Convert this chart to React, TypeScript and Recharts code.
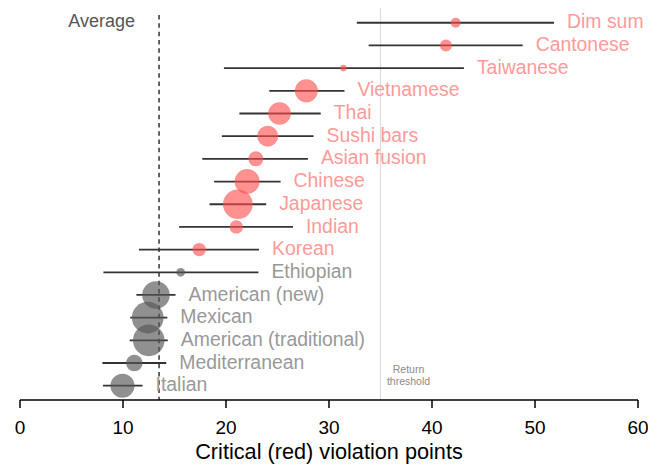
import React from 'react';
import { ScatterChart, Scatter, XAxis, YAxis, ZAxis, ErrorBar, ReferenceLine } from 'recharts';

// Cuisines, top to bottom
const cuisines = [
  'Dim sum', 'Cantonese', 'Taiwanese', 'Vietnamese', 'Thai', 'Sushi bars', 'Asian fusion',
  'Chinese', 'Japanese', 'Indian', 'Korean', 'Ethiopian', 'American (new)', 'Mexican',
  'American (traditional)', 'Mediterranean', 'Italian',
];
const means = [42.3, 41.35, 31.4, 27.8, 25.2, 24.05, 22.9, 22.05, 21.15, 21.0, 17.4, 15.6, 13.2, 12.4, 12.5, 11.1, 9.95];
const lows = [32.7, 33.85, 19.8, 24.2, 21.3, 19.6, 17.7, 18.85, 18.4, 15.45, 11.55, 8.1, 11.3, 10.7, 10.65, 8.0, 8.05];
const highs = [51.85, 48.8, 43.1, 31.5, 29.2, 28.5, 27.95, 25.3, 23.9, 26.5, 23.2, 23.15, 15.1, 14.3, 14.35, 14.2, 11.9];
const weights = [25, 36, 11, 132, 128, 110, 56, 156, 220, 45, 45, 19, 190, 250, 250, 69, 145];
const critical = [true, true, true, true, true, true, true, true, true, true, true, false, false, false, false, false, false];
const xTicks = [0, 10, 20, 30, 40, 50, 60];
const AVERAGE = 13.5;
const THRESHOLD = 35;

const Y_MIN = -0.63;
const Y_MAX = 16.65;
const AVG_TOP = 16.34;
const MAX_W = 250;

const rows = cuisines.map((name, i) => ({
  name,
  x: means[i],
  y: cuisines.length - 1 - i,
  w: weights[i],
  err: [means[i] - lows[i], highs[i] - means[i]],
  high: highs[i],
  critical: critical[i],
}));
const redRows = rows.filter((r) => r.critical);
const grayRows = rows.filter((r) => !r.critical);
const labelRows = rows.map((r) => ({ ...r, x: r.high }));
const avgLabel = [{ x: AVERAGE, y: cuisines.length - 1 }];
const thrLabel = [{ x: THRESHOLD, y: 0.5 }];

const FONT = '"Liberation Sans", Arial, Helvetica, sans-serif';

const Empty = () => <g />;

const NameLabel = (p: any) => (
  <text
    x={p.cx + 13}
    y={p.cy + 5.6}
    fontSize={19.4}
    fontFamily={FONT}
    fill={p.payload.critical ? '#ff9a9a' : '#999999'}
  >
    {p.payload.name}
  </text>
);

const AvgLabel = (p: any) => (
  <text x={p.cx - 24} y={p.cy + 4.5} fontSize={18} fontFamily={FONT} fill="#555555" textAnchor="end">
    Average
  </text>
);

const ThrLabel = (p: any) => (
  <g>
    <text x={p.cx + 28} y={p.cy - 1.8} fontSize={10.5} fontFamily={FONT} fill="#8a8a8a" textAnchor="middle">
      Return
    </text>
    <text x={p.cx + 28} y={p.cy + 10.2} fontSize={10.5} fontFamily={FONT} fill="#8a8a8a" textAnchor="middle">
      threshold
    </text>
  </g>
);

export default function App() {
  return (
    <div style={{ position: 'absolute', left: 0, top: 0, width: 648, height: 464, background: '#fff' }}>
      <ScatterChart
        width={648}
        height={464}
        margin={{ top: 8, right: 10, bottom: 0, left: 20 }}
        style={{ fontFamily: FONT }}
      >
        <XAxis
          type="number"
          dataKey="x"
          domain={[0, 60]}
          ticks={xTicks}
          height={64}
          tickSize={8}
          tickMargin={13}
          axisLine={{ stroke: '#000', strokeWidth: 1.5 }}
          tickLine={{ stroke: '#000', strokeWidth: 1.5 }}
          tick={{ fill: '#000', fontSize: 19, fontFamily: FONT }}
          label={{
            value: 'Critical (red) violation points',
            position: 'insideBottom',
            offset: 5.5,
            fontSize: 21.7,
            fill: '#000',
            fontFamily: FONT,
          }}
        />
        <YAxis type="number" dataKey="y" domain={[Y_MIN, Y_MAX]} hide />
        <ZAxis type="number" dataKey="w" domain={[0, MAX_W]} range={[0, MAX_W * Math.PI]} />
        <ReferenceLine x={THRESHOLD} stroke="#dcdcdc" strokeWidth={1.2} />
        <ReferenceLine
          segment={[
            { x: AVERAGE, y: AVG_TOP },
            { x: AVERAGE, y: Y_MIN },
          ]}
          stroke="#333"
          strokeWidth={1.5}
          strokeDasharray="4.5 3.8"
        />
        <Scatter data={redRows} fill="#ff4d4d" fillOpacity={0.62} isAnimationActive={false} />
        <Scatter data={grayRows} fill="#565656" fillOpacity={0.66} isAnimationActive={false} />
        <Scatter data={rows} shape={Empty} isAnimationActive={false}>
          <ErrorBar dataKey="err" direction="x" width={0} stroke="#333" strokeWidth={1.8} isAnimationActive={false} />
        </Scatter>
        <Scatter data={labelRows} shape={NameLabel} isAnimationActive={false} />
        <Scatter data={avgLabel} shape={AvgLabel} isAnimationActive={false} />
        <Scatter data={thrLabel} shape={ThrLabel} isAnimationActive={false} />
      </ScatterChart>
    </div>
  );
}
